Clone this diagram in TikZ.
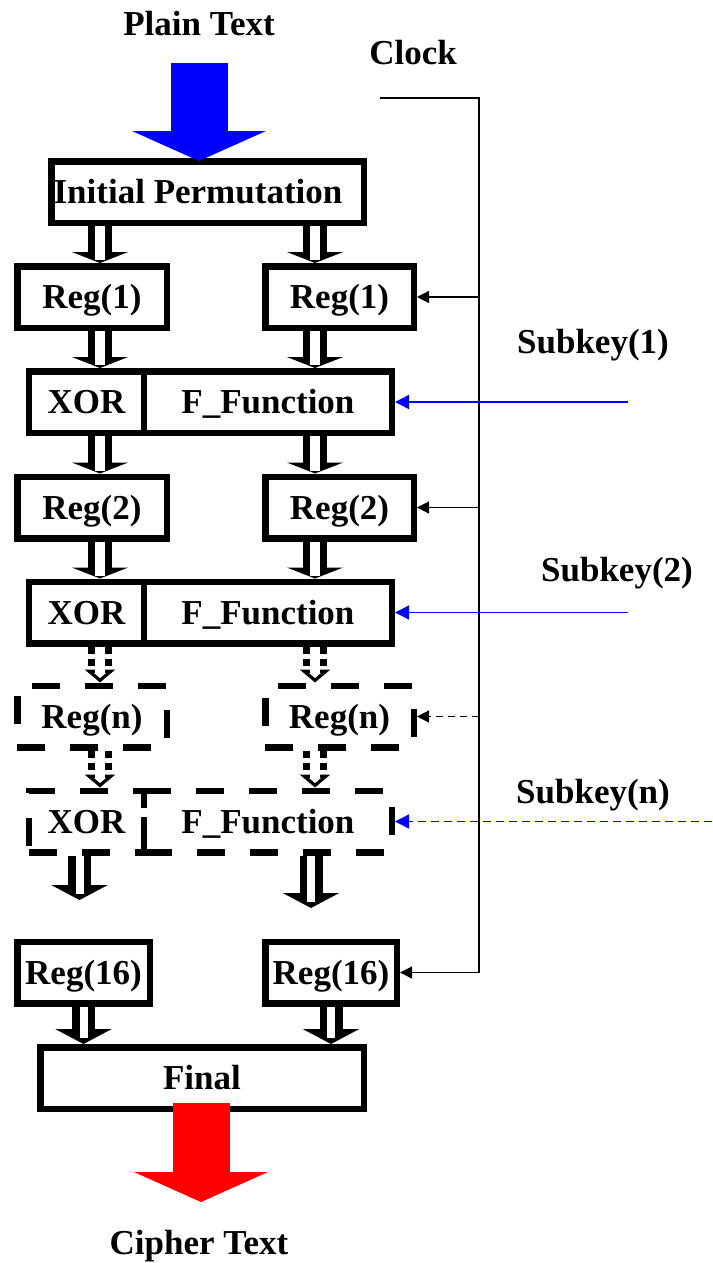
\documentclass[tikz,border=0pt]{standalone}
\usepackage{fontspec}
\setmainfont{Liberation Serif}
\usepackage{xcolor}
\usetikzlibrary{positioning,arrows.meta}
\tikzset{
  big/.style={font=\fontsize{35}{40}\selectfont\bfseries, text height=23.2pt, text depth=0pt},
  blk/.style={rectangle, draw=black, fill=white, line width=6.5pt, inner sep=0pt, minimum height=61.5pt, big},
  dblk/.style={blk, fill=none, dash pattern=on 28pt off 25pt},
  lbl/.style={big, inner sep=0pt},
  hol/.style={draw=black, line width=24pt, -{Triangle[length=11pt,width=56pt]},
    postaction={draw=white, line width=10pt, -, shorten >=3pt}},
  holl/.style={draw=black, line width=23pt, -{Triangle[length=15pt,width=56pt]},
    postaction={draw=white, line width=8pt, -, shorten >=6pt}},
  dhol/.style={draw=black, line width=24pt, dash pattern=on 7pt off 5pt,
    -{Triangle[open,length=13pt,width=30pt,line width=5pt]},
    postaction={draw=white, solid, line width=10pt, -, shorten >=9pt}},
  fat/.style={line width=57pt, -{Triangle[length=30pt,width=133pt]}},
  clk/.style={draw=black, line width=1.2pt},
  clka/.style={clk, -{Triangle[length=12pt,width=12pt]}},
  clkd/.style={clka, dash pattern=on 7pt off 5pt},
  key/.style={draw=blue, line width=1.5pt, -{Triangle[length=14pt,width=14pt]}},
  keyd/.style={key, dash pattern=on 8pt off 5pt}
}
\begin{document}
\begin{tikzpicture}[x=1pt, y=-1pt]
  \useasboundingbox (0,0) rectangle (712,1263);

  % Labels
  \node[lbl] (plain) at (199,24) {Plain Text};
  \node[lbl] (clock) at (413,53) {Clock};
  \node[lbl] (sk1) at (593,342) {Subkey(1)};
  \node[lbl] (sk2) at (617,570) {Subkey(2)};
  \node[lbl] (skn) at (593,792) {Subkey(n)};
  \node[lbl] (cipher) at (199,1243) {Cipher Text};

  % Column and input points
  \coordinate (cl) at (100,0);
  \coordinate (cr) at (315,0);
  \coordinate (bus) at (479,0);
  \coordinate (kin) at (628,0);
  \coordinate (knin) at (712,0);
  \coordinate (clkin) at (380,98);
  \coordinate (ptin) at (199,63);
  \coordinate (ctout) at (201,1202);
  \coordinate (outl) at (79.5,900);
  \coordinate (outr) at (311,908);

  % Blocks
  \node[blk, minimum width=312.5pt] (ip) at (207.5,192) {\hspace*{-19pt}Initial Permutation};

  \node[blk, minimum width=149.5pt] (r1l) at (92,297) {Reg(1)};
  \node[blk, minimum width=148.5pt] (r1r) at (339.5,297) {Reg(1)};
  \node[blk, minimum width=114.75pt] (xor1) at (86.6,402) {XOR};
  \node[blk, minimum width=247.75pt] (fn1) at (267.9,402) {F\_Function};

  \node[blk, minimum width=149.5pt] (r2l) at (92,507.5) {Reg(2)};
  \node[blk, minimum width=148.5pt] (r2r) at (339.5,507.5) {Reg(2)};
  \node[blk, minimum width=114.75pt] (xor2) at (86.6,612.5) {XOR};
  \node[blk, minimum width=247.75pt] (fn2) at (267.9,612.5) {F\_Function};

  \node[dblk, minimum width=149.5pt] (rnl) at (92,716.5) {Reg(n)};
  \node[dblk, minimum width=148.5pt] (rnr) at (339.5,716.5) {Reg(n)};
  \node[dblk, minimum width=114.75pt] (xorn) at (86.6,821.5) {XOR};
  \node[dblk, minimum width=247.75pt] (fnn) at (267.9,821.5) {F\_Function};

  \node[blk, minimum width=132.5pt] (r16l) at (83.5,972.5) {Reg(16)};
  \node[blk, minimum width=131.5pt] (r16r) at (331,972.5) {Reg(16)};
  \node[blk, minimum width=323.5pt] (fin) at (202,1078) {Final};

  % Data path
  \draw[hol] (ip.south -| cl) -- (r1l.north -| cl);
  \draw[hol] (ip.south -| cr) -- (r1r.north -| cr);
  \draw[hol] (r1l.south -| cl) -- (xor1.north -| cl);
  \draw[hol] (r1r.south -| cr) -- (fn1.north -| cr);
  \draw[hol] (xor1.south -| cl) -- (r2l.north -| cl);
  \draw[hol] (fn1.south -| cr) -- (r2r.north -| cr);
  \draw[hol] (r2l.south -| cl) -- (xor2.north -| cl);
  \draw[hol] (r2r.south -| cr) -- (fn2.north -| cr);
  \draw[dhol] (xor2.south -| cl) -- (rnl.north -| cl);
  \draw[dhol] (fn2.south -| cr) -- (rnr.north -| cr);
  \draw[dhol] (rnl.south -| cl) -- (xorn.north -| cl);
  \draw[dhol] (rnr.south -| cr) -- (fnn.north -| cr);
  \draw[holl] (xorn.south -| outl) -- (outl);
  \draw[holl] (fnn.south -| outr) -- (outr);
  \draw[holl] (r16l.south) -- (fin.north -| r16l.south);
  \draw[holl] (r16r.south) -- (fin.north -| r16r.south);

  % In and out
  \draw[fat, blue] (ptin) -- ([yshift=-3pt]ip.north -| ptin);
  \draw[fat, red] ([yshift=9pt]fin.south -| ctout) -- (ctout);

  % Clock
  \draw[clka] (clkin) -| (r16r.east -| bus) -- (r16r.east);
  \draw[clka] (r1r.east -| bus) -- (r1r.east);
  \draw[clka] (r2r.east -| bus) -- (r2r.east);
  \draw[clkd] (rnr.east -| bus) -- (rnr.east);

  % Subkeys
  \draw[key] (fn1.east -| kin) -- (fn1.east);
  \draw[key] (fn2.east -| kin) -- (fn2.east);
  \draw[keyd] (fnn.east -| knin) -- (fnn.east);
\end{tikzpicture}
\end{document}
